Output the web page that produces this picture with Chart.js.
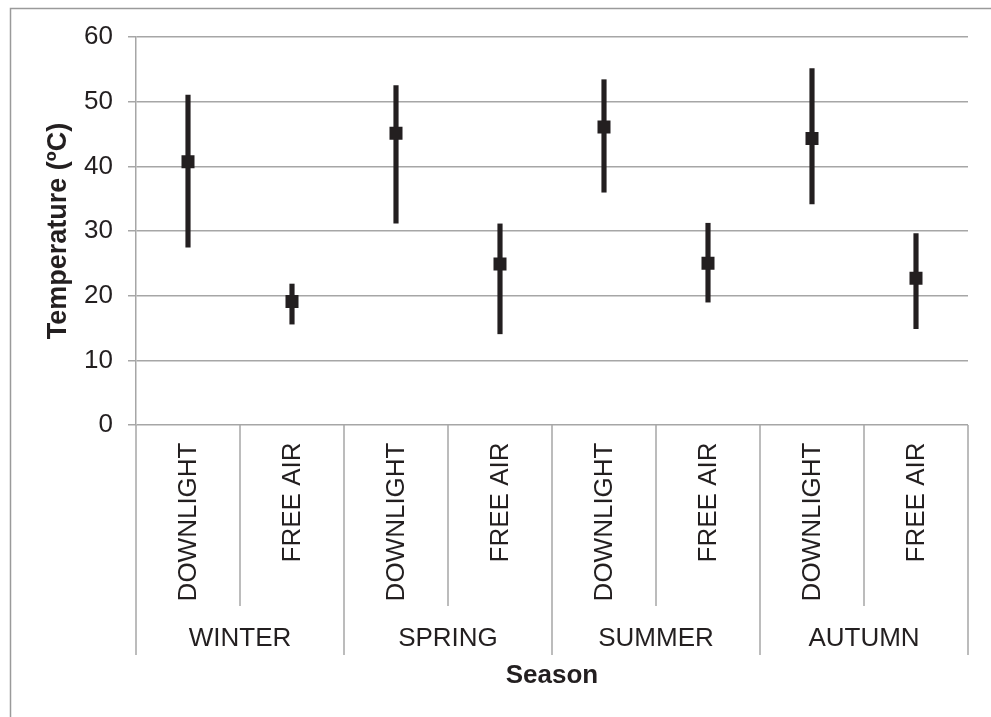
<!DOCTYPE html>
<html>
<head>
<meta charset="utf-8">
<script src="https://cdn.jsdelivr.net/npm/chart.js@4.4.0/dist/chart.umd.min.js"></script>
<style>
  html, body { margin: 0; padding: 0; background: #fff; }
  canvas { display: block; }
</style>
</head>
<body>
<canvas id="grafica" width="991" height="717"></canvas>
<script>
// datos
const categorias = ['DOWNLIGHT', 'FREE AIR', 'DOWNLIGHT', 'FREE AIR', 'DOWNLIGHT', 'FREE AIR', 'DOWNLIGHT', 'FREE AIR'];
const estaciones = ['WINTER', 'SPRING', 'SUMMER', 'AUTUMN'];
const medias = [40.7, 19.1, 45.1, 24.9, 46.1, 25.0, 44.3, 22.7];
const minimos = [27.5, 15.6, 31.2, 14.1, 36.0, 19.0, 34.2, 14.9];
const maximos = [51.0, 21.8, 52.5, 31.1, 53.4, 31.2, 55.1, 29.6];
const ticksY = [0, 10, 20, 30, 40, 50, 60];

const TINTA = '#231f20';
const GRIS = '#a6a6a6';
const FUENTE = "'Liberation Sans', Arial, sans-serif";

// ejes de categorias, separadores y marco exterior
const ejeX = {
    id: 'ejeX',
    afterDraw(chart) {
        const ctx = chart.ctx;
        const area = chart.chartArea;
        const x = chart.scales.x;
        const n = categorias.length;
        const centro = i => x.getPixelForValue(i);
        const borde = i => i === 0 ? area.left : (i === n ? area.right : (centro(i - 1) + centro(i)) / 2);

        ctx.save();
        // marco
        ctx.strokeStyle = '#9a9a9a';
        ctx.lineWidth = 1.5;
        ctx.beginPath();
        ctx.moveTo(10.5, 717);
        ctx.lineTo(10.5, 8.5);
        ctx.lineTo(991, 8.5);
        ctx.stroke();

        // separadores
        ctx.strokeStyle = GRIS;
        ctx.lineWidth = 1.5;
        for (let i = 0; i <= n; i++) {
            const px = borde(i);
            const fin = i % 2 === 0 ? 655 : 606;
            ctx.beginPath();
            ctx.moveTo(px, area.bottom);
            ctx.lineTo(px, fin);
            ctx.stroke();
        }

        // etiquetas giradas
        ctx.fillStyle = TINTA;
        ctx.font = '26px ' + FUENTE;
        categorias.forEach((c, i) => {
            ctx.save();
            ctx.translate(centro(i), area.bottom + 17.5);
            ctx.rotate(-Math.PI / 2);
            ctx.textAlign = 'right';
            ctx.textBaseline = 'middle';
            ctx.fillText(c, 0, 1);
            ctx.restore();
        });

        // estaciones
        ctx.textAlign = 'center';
        ctx.textBaseline = 'middle';
        estaciones.forEach((e, j) => {
            const cx = (borde(2 * j) + borde(2 * j + 2)) / 2;
            ctx.fillText(e, cx, 639);
        });

        // titulo del eje
        ctx.font = 'bold 26px ' + FUENTE;
        ctx.fillText('Season', (area.left + area.right) / 2, 676);
        ctx.restore();
    }
};

new Chart(document.getElementById('grafica'), {
    type: 'bar',
    data: {
        labels: categorias,
        datasets: [
            {
                type: 'line',
                label: 'Media',
                data: medias,
                showLine: false,
                pointStyle: 'rect',
                pointRadius: 9.2,
                pointBackgroundColor: TINTA,
                pointBorderWidth: 0,
                order: 0
            },
            {
                type: 'bar',
                label: 'Rango',
                data: minimos.map((m, i) => [m, maximos[i]]),
                backgroundColor: TINTA,
                barThickness: 4.5,
                borderWidth: 0,
                order: 1
            }
        ]
    },
    plugins: [ejeX],
    options: {
        responsive: false,
        animation: false,
        devicePixelRatio: 1,
        layout: { padding: { left: 0, top: 37, right: 23, bottom: 292 } },
        plugins: {
            legend: { display: false },
            tooltip: { enabled: false }
        },
        scales: {
            x: {
                display: false,
                offset: true
            },
            y: {
                min: 0,
                max: 60,
                afterBuildTicks: s => { s.ticks = ticksY.map(v => ({ value: v })); },
                afterFit: s => { s.width = 136; },
                grid: { color: GRIS, lineWidth: 1.5, tickLength: 8, drawTicks: true },
                border: { color: GRIS, width: 1.5 },
                ticks: {
                    color: TINTA,
                    padding: 15,
                    font: { family: FUENTE, size: 26 }
                },
                title: {
                    display: true,
                    text: 'Temperature (ºC)',
                    color: TINTA,
                    font: { family: FUENTE, size: 27, weight: 'bold' },
                    padding: { top: 42, bottom: 0 }
                }
            }
        }
    }
});
</script>
</body>
</html>
